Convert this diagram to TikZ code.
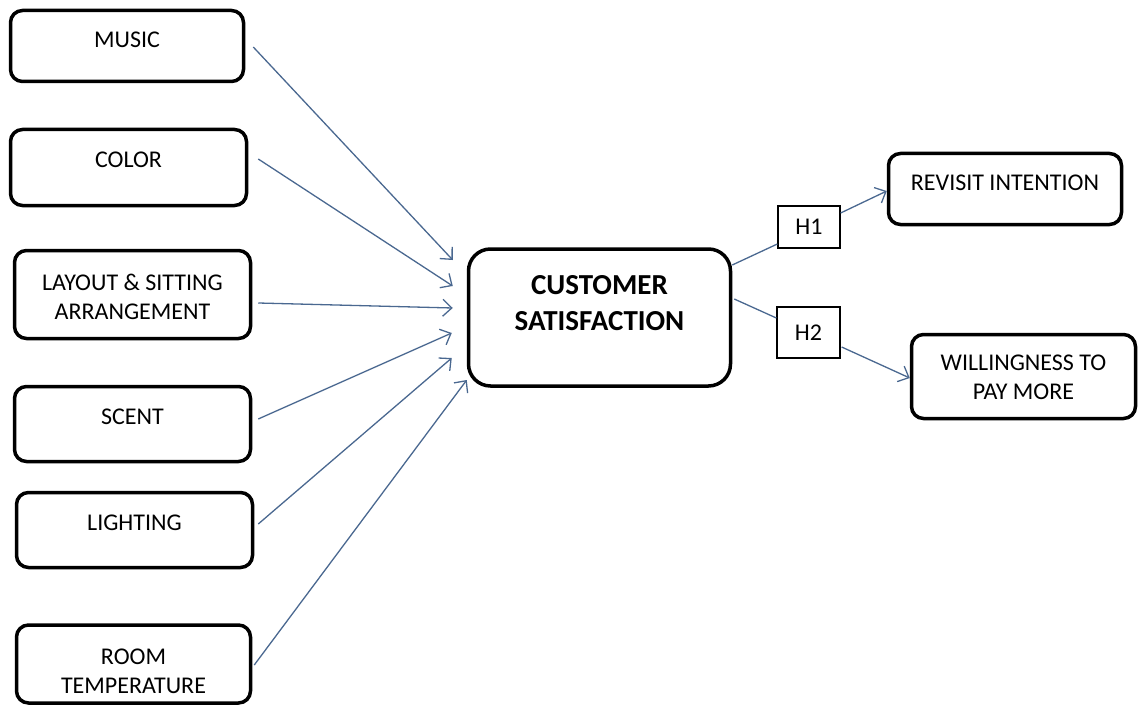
\documentclass[tikz,border=0pt]{standalone}
\usepackage{fontspec}
\setmainfont{Carlito}
\usetikzlibrary{arrows.meta,calc}
\definecolor{arrowblue}{HTML}{4A6890}
\tikzset{
  box/.style={draw=black,line width=3.5pt,rounded corners=12pt,inner sep=0pt,fill=white},
  hbox/.style={draw=black,line width=1.3pt,inner sep=0pt,fill=white,font=\fontsize{24}{29}\selectfont},
  txt/.style={font=\fontsize{24}{29}\selectfont,align=center,inner sep=0pt},
  conn/.style={draw=arrowblue,line width=1.3pt,-{Straight Barb[length=9pt,width=17pt,line width=1.3pt]}},
  plain/.style={draw=arrowblue,line width=1.3pt}
}
\begin{document}
\begin{tikzpicture}[x=1pt,y=-1pt]
\useasboundingbox (0,0) rectangle (1138,706);
% left boxes
\node[box,minimum width=233pt,minimum height=71pt,label={[txt,yshift=6pt]center:MUSIC}] (music) at (127,46) {};
\node[box,minimum width=236pt,minimum height=76pt,label={[txt,yshift=7.5pt]center:COLOR}] (color) at (128.5,167.5) {};
\node[box,minimum width=236pt,minimum height=88pt,label={[txt,yshift=-2pt]center:LAYOUT \& SITTING\\ARRANGEMENT}] (layout) at (132.5,294.5) {};
\node[box,minimum width=236pt,minimum height=75pt,label={[txt,yshift=7pt]center:SCENT}] (scent) at (132.5,424) {};
\node[box,minimum width=236pt,minimum height=75pt,label={[txt,yshift=7pt]center:LIGHTING}] (lighting) at (134.5,530) {};
\node[box,minimum width=234pt,minimum height=78pt,label={[txt,yshift=-7pt]center:ROOM\\TEMPERATURE}] (room) at (133.5,664) {};
% center
\node[box,rounded corners=22pt,minimum width=262pt,minimum height=137pt,label={[font=\fontsize{29}{36}\selectfont\bfseries,align=center,inner sep=0pt,yshift=14pt]center:CUSTOMER\\SATISFACTION}] (ctr) at (599.5,317.5) {};
% right boxes
\node[box,minimum width=233pt,minimum height=71pt,label={[txt,yshift=6pt]center:REVISIT INTENTION}] (revisit) at (1005,189) {};
\node[box,minimum width=224pt,minimum height=84pt,label={[txt,yshift=-1pt]center:WILLINGNESS TO\\PAY MORE}] (will) at (1023.5,376.5) {};
% hypothesis boxes
\node[hbox,minimum width=62pt,minimum height=42pt] (h1) at (809,227) {H1};
\node[hbox,minimum width=63pt,minimum height=51pt] (h2) at (808.5,332.5) {H2};
% connectors left
\draw[conn] ($(music.east)+(8,1)$) -- ($(ctr.west)+(-14,-57.5)$);
\draw[conn] ($(color.east)+(10,-8.5)$) -- ($(ctr.west)+(-14,-31.5)$);
\draw[conn] ($(layout.east)+(6,8.5)$) -- ($(ctr.west)+(-14,-9.5)$);
\draw[conn] ($(scent.east)+(6,-5)$) -- ($(ctr.west)+(-15,15.5)$);
\draw[conn] ($(lighting.east)+(4,-6)$) -- ($(ctr.west)+(-15,40.5)$);
\draw[conn] ($(room.east)+(2,1)$) -- ($(ctr.west)+(0,62.5)$);
% connectors right
\draw[plain] ($(ctr.east)+(0,-52.5)$) -- ($(h1.west)+(0,17)$);
\draw[conn] ($(h1.east)+(0,-14)$) -- ($(revisit.west)+(0,2)$);
\draw[plain] ($(ctr.east)+(2,-18.5)$) -- ($(h2.west)+(0,-14.5)$);
\draw[conn] ($(h2.east)+(1,14.5)$) -- ($(will.west)+(0,1.5)$);
\end{tikzpicture}
\end{document}
